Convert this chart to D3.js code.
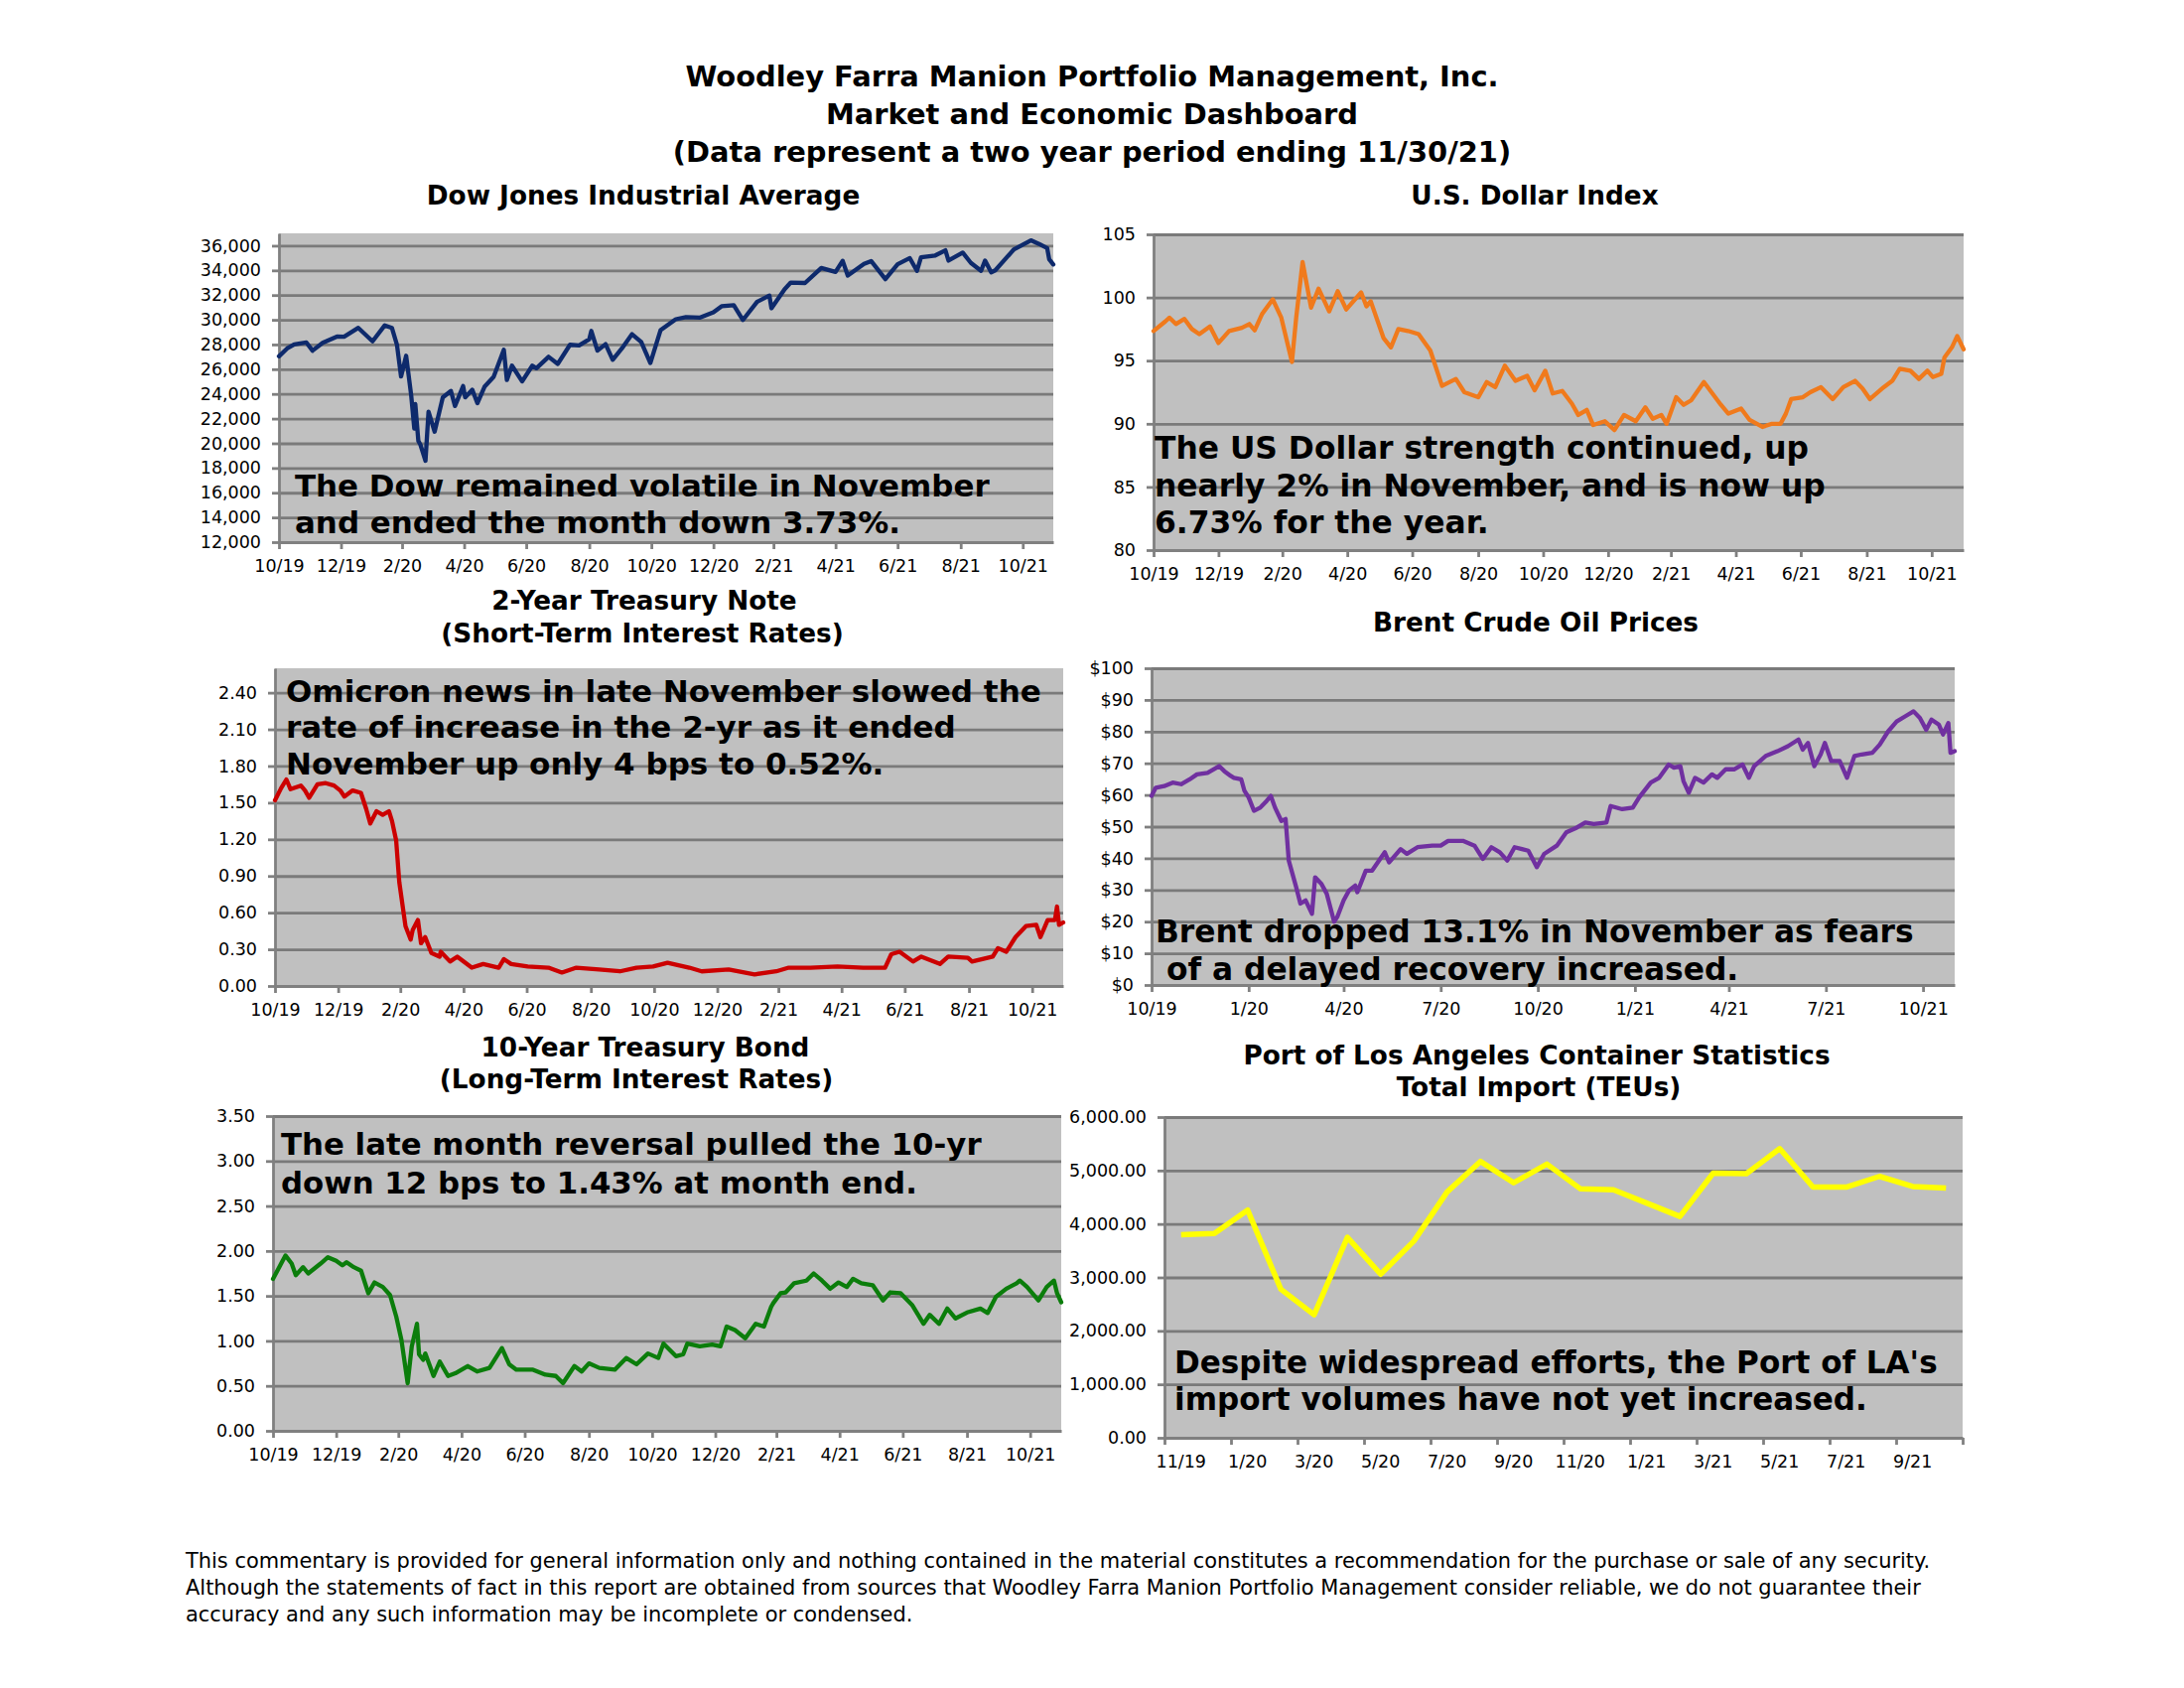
<!DOCTYPE html>
<html><head><meta charset="utf-8">
<script src="https://cdn.jsdelivr.net/npm/d3@7"></script>
<style>body{margin:0;background:#fff}svg{display:block}</style>
</head><body>
<svg id="c" width="2200" height="1700"></svg>
<script>
// ---------------- DATA ----------------
const dowDates = ["2019-10-31","2019-11-08","2019-11-15","2019-11-27","2019-12-03","2019-12-13","2019-12-27","2020-01-03","2020-01-17","2020-01-31","2020-02-12","2020-02-19","2020-02-24","2020-02-28","2020-03-04","2020-03-09","2020-03-12","2020-03-13","2020-03-16","2020-03-18","2020-03-23","2020-03-26","2020-04-01","2020-04-09","2020-04-17","2020-04-21","2020-04-29","2020-05-01","2020-05-08","2020-05-13","2020-05-20","2020-05-29","2020-06-08","2020-06-11","2020-06-16","2020-06-26","2020-07-06","2020-07-10","2020-07-22","2020-07-31","2020-08-12","2020-08-21","2020-08-31","2020-09-02","2020-09-08","2020-09-16","2020-09-23","2020-10-02","2020-10-12","2020-10-21","2020-10-30","2020-11-09","2020-11-24","2020-12-04","2020-12-18","2020-12-31","2021-01-08","2021-01-20","2021-01-29","2021-02-12","2021-02-24","2021-02-26","2021-03-11","2021-03-17","2021-03-31","2021-04-16","2021-04-30","2021-05-07","2021-05-12","2021-05-28","2021-06-04","2021-06-18","2021-06-30","2021-07-12","2021-07-19","2021-07-23","2021-08-06","2021-08-16","2021-08-19","2021-09-02","2021-09-10","2021-09-20","2021-09-24","2021-09-30","2021-10-04","2021-10-22","2021-11-08","2021-11-16","2021-11-24","2021-11-26","2021-11-30"];
const dowValues = [27046,27681,28005,28164,27502,28135,28645,28634,29348,28256,29551,29348,27961,25409,27091,23851,21200,23185,20189,19899,18592,22552,20943,23719,24242,23019,24634,23724,24331,23248,24576,25383,27572,25128,26290,25016,26288,26075,27005,26428,27977,27930,28430,29100,27501,28032,26763,27683,28838,28211,26502,29158,30046,30218,30179,30606,31098,31188,29983,31458,31962,30932,32485,33015,32982,34200,33875,34778,33587,34529,34756,33290,34503,34996,33962,35061,35208,35625,34792,35443,34608,33970,34798,33844,34002,35677,36432,36143,35804,34899,34484];

const usdDates = ["2019-10-31","2019-11-11","2019-11-15","2019-11-21","2019-11-29","2019-12-06","2019-12-13","2019-12-23","2019-12-31","2020-01-10","2020-01-22","2020-01-29","2020-02-03","2020-02-10","2020-02-20","2020-02-28","2020-03-09","2020-03-13","2020-03-19","2020-03-27","2020-04-03","2020-04-13","2020-04-21","2020-04-29","2020-05-13","2020-05-18","2020-05-22","2020-06-03","2020-06-10","2020-06-17","2020-06-26","2020-07-06","2020-07-17","2020-07-28","2020-08-10","2020-08-18","2020-08-31","2020-09-08","2020-09-16","2020-09-25","2020-10-05","2020-10-16","2020-10-23","2020-11-02","2020-11-09","2020-11-18","2020-11-27","2020-12-03","2020-12-11","2020-12-17","2020-12-28","2021-01-06","2021-01-15","2021-01-26","2021-02-04","2021-02-11","2021-02-19","2021-02-24","2021-03-05","2021-03-12","2021-03-19","2021-03-31","2021-04-08","2021-04-16","2021-04-23","2021-05-05","2021-05-13","2021-05-25","2021-06-03","2021-06-11","2021-06-16","2021-06-21","2021-07-02","2021-07-09","2021-07-19","2021-07-30","2021-08-09","2021-08-20","2021-08-27","2021-09-03","2021-09-16","2021-09-24","2021-10-01","2021-10-11","2021-10-19","2021-10-27","2021-11-01","2021-11-09","2021-11-12","2021-11-19","2021-11-24","2021-11-30"];
const usdValues = [97.35,98.1,98.4,97.9,98.3,97.5,97.1,97.7,96.4,97.35,97.6,97.9,97.4,98.7,99.85,98.4,94.9,98.4,102.8,99.2,100.7,98.9,100.5,99.05,100.4,99.3,99.7,96.8,96.05,97.5,97.35,97.1,95.8,93.0,93.55,92.5,92.1,93.3,92.9,94.6,93.4,93.8,92.65,94.2,92.4,92.6,91.6,90.7,91.1,89.9,90.2,89.5,90.7,90.2,91.3,90.4,90.7,90.0,92.1,91.5,91.85,93.3,92.4,91.5,90.8,91.2,90.3,89.75,90.0,90.0,90.8,91.95,92.1,92.5,92.9,91.95,92.9,93.4,92.8,91.95,92.9,93.4,94.35,94.2,93.55,94.2,93.7,93.95,95.25,96.05,96.95,95.9];

const t2Dates = ["2019-10-31","2019-11-06","2019-11-11","2019-11-15","2019-11-25","2019-11-29","2019-12-03","2019-12-11","2019-12-19","2019-12-27","2020-01-02","2020-01-06","2020-01-14","2020-01-22","2020-01-27","2020-01-31","2020-02-06","2020-02-12","2020-02-18","2020-02-21","2020-02-25","2020-02-28","2020-03-05","2020-03-10","2020-03-12","2020-03-17","2020-03-20","2020-03-24","2020-03-30","2020-04-07","2020-04-08","2020-04-17","2020-04-24","2020-05-08","2020-05-19","2020-06-03","2020-06-08","2020-06-15","2020-07-01","2020-07-21","2020-08-03","2020-08-17","2020-09-08","2020-09-28","2020-10-14","2020-10-30","2020-11-13","2020-12-04","2020-12-16","2021-01-11","2021-02-05","2021-02-26","2021-03-10","2021-03-31","2021-04-26","2021-05-21","2021-06-11","2021-06-17","2021-06-25","2021-07-08","2021-07-16","2021-08-03","2021-08-11","2021-08-30","2021-09-03","2021-09-23","2021-09-28","2021-10-06","2021-10-15","2021-10-25","2021-11-04","2021-11-08","2021-11-15","2021-11-22","2021-11-24","2021-11-26","2021-11-30"];
const t2Values = [1.52,1.62,1.69,1.61,1.64,1.60,1.54,1.65,1.66,1.64,1.60,1.55,1.60,1.58,1.45,1.33,1.43,1.40,1.43,1.35,1.19,0.85,0.49,0.38,0.46,0.54,0.35,0.40,0.27,0.24,0.28,0.20,0.24,0.15,0.18,0.15,0.22,0.18,0.16,0.15,0.11,0.15,0.135,0.12,0.15,0.16,0.19,0.15,0.12,0.135,0.095,0.12,0.15,0.15,0.16,0.15,0.15,0.26,0.28,0.20,0.24,0.18,0.24,0.23,0.20,0.24,0.31,0.28,0.40,0.49,0.50,0.40,0.54,0.54,0.65,0.50,0.52];

const brentDates = ["2019-10-31","2019-11-04","2019-11-12","2019-11-20","2019-11-28","2019-12-06","2019-12-13","2019-12-23","2020-01-03","2020-01-08","2020-01-14","2020-01-17","2020-01-24","2020-01-27","2020-01-31","2020-02-05","2020-02-11","2020-02-17","2020-02-21","2020-02-25","2020-03-02","2020-03-06","2020-03-09","2020-03-16","2020-03-20","2020-03-25","2020-03-31","2020-04-03","2020-04-09","2020-04-14","2020-04-21","2020-04-24","2020-04-30","2020-05-05","2020-05-11","2020-05-13","2020-05-21","2020-05-27","2020-06-08","2020-06-12","2020-06-23","2020-06-29","2020-07-09","2020-07-23","2020-07-31","2020-08-07","2020-08-21","2020-09-01","2020-09-09","2020-09-17","2020-09-25","2020-10-02","2020-10-09","2020-10-16","2020-10-22","2020-10-30","2020-11-06","2020-11-18","2020-11-27","2020-12-07","2020-12-15","2020-12-23","2021-01-04","2021-01-08","2021-01-19","2021-01-29","2021-02-04","2021-02-15","2021-02-23","2021-03-04","2021-03-09","2021-03-15","2021-03-18","2021-03-23","2021-03-29","2021-04-06","2021-04-14","2021-04-19","2021-04-27","2021-05-05","2021-05-13","2021-05-19","2021-05-24","2021-06-04","2021-06-15","2021-06-25","2021-07-05","2021-07-09","2021-07-14","2021-07-20","2021-07-26","2021-07-30","2021-08-05","2021-08-13","2021-08-20","2021-08-27","2021-09-03","2021-09-13","2021-09-20","2021-09-28","2021-10-06","2021-10-14","2021-10-22","2021-10-28","2021-11-03","2021-11-08","2021-11-15","2021-11-19","2021-11-24","2021-11-26","2021-11-30"];
const brentValues = [59.7,62.3,62.8,63.9,63.4,64.9,66.5,67.0,69.1,67.5,66.0,65.4,64.9,61.3,59.2,55.0,56.0,58.1,59.7,56.0,51.8,52.4,39.3,30.9,25.7,26.7,22.5,34.0,31.9,28.8,20.0,21.5,26.7,29.8,31.4,29.3,36.1,36.1,41.9,38.7,42.9,41.4,43.5,44.0,44.0,45.5,45.5,44.0,39.8,43.5,41.9,39.3,43.5,42.9,42.4,37.2,41.4,44.0,48.2,49.7,51.3,50.8,51.3,56.5,55.5,56.0,59.2,63.9,65.4,69.6,68.6,69.1,64.4,60.7,65.4,63.9,66.5,65.4,68.1,68.1,69.6,65.4,69.1,72.3,73.8,75.4,77.5,74.3,76.4,69.1,72.8,76.4,70.7,70.7,65.4,72.3,72.8,73.3,75.9,80.1,83.2,84.8,86.4,84.3,80.6,83.8,82.2,79.1,82.7,73.3,73.8];

const t10Dates = ["2019-10-31","2019-11-06","2019-11-12","2019-11-18","2019-11-22","2019-11-29","2019-12-04","2019-12-16","2019-12-23","2019-12-31","2020-01-06","2020-01-10","2020-01-17","2020-01-24","2020-01-31","2020-02-06","2020-02-14","2020-02-21","2020-02-27","2020-03-03","2020-03-09","2020-03-13","2020-03-18","2020-03-20","2020-03-24","2020-03-26","2020-04-03","2020-04-09","2020-04-17","2020-04-24","2020-05-06","2020-05-15","2020-05-27","2020-06-08","2020-06-15","2020-06-22","2020-07-08","2020-07-20","2020-07-30","2020-08-06","2020-08-17","2020-08-24","2020-08-31","2020-09-10","2020-09-25","2020-10-06","2020-10-16","2020-10-27","2020-11-06","2020-11-11","2020-11-23","2020-11-30","2020-12-04","2020-12-16","2020-12-28","2021-01-05","2021-01-11","2021-01-19","2021-01-29","2021-02-08","2021-02-16","2021-02-23","2021-02-25","2021-03-04","2021-03-09","2021-03-17","2021-03-29","2021-04-05","2021-04-13","2021-04-21","2021-04-29","2021-05-07","2021-05-13","2021-05-21","2021-06-01","2021-06-11","2021-06-18","2021-06-28","2021-07-09","2021-07-20","2021-07-26","2021-08-04","2021-08-12","2021-08-20","2021-09-01","2021-09-13","2021-09-20","2021-09-28","2021-10-08","2021-10-18","2021-10-21","2021-10-28","2021-11-08","2021-11-16","2021-11-23","2021-11-26","2021-11-30"];
const t10Values = [1.69,1.82,1.95,1.86,1.73,1.82,1.75,1.86,1.93,1.89,1.84,1.875,1.82,1.78,1.53,1.65,1.60,1.51,1.27,1.01,0.53,0.94,1.19,0.85,0.79,0.86,0.61,0.77,0.61,0.64,0.72,0.66,0.70,0.92,0.74,0.68,0.68,0.625,0.61,0.53,0.72,0.66,0.75,0.70,0.68,0.81,0.74,0.86,0.81,0.97,0.83,0.85,0.97,0.94,0.96,0.94,1.16,1.12,1.03,1.19,1.16,1.38,1.42,1.53,1.54,1.64,1.67,1.75,1.67,1.58,1.65,1.60,1.69,1.64,1.62,1.45,1.54,1.53,1.40,1.19,1.29,1.19,1.36,1.25,1.32,1.36,1.31,1.49,1.58,1.64,1.67,1.60,1.45,1.60,1.67,1.53,1.43];

const portMonths = ["11/19","12/19","1/20","2/20","3/20","4/20","5/20","6/20","7/20","8/20","9/20","10/20","11/20","12/20","1/21","2/21","3/21","4/21","5/21","6/21","7/21","8/21","9/21","10/21"];
const portValues = [3800,3820,4260,2780,2300,3750,3060,3680,4600,5170,4770,5120,4660,4640,4390,4140,4950,4940,5410,4690,4690,4890,4700,4670];

const bimonthlyTickLabels = ["10/19","12/19","2/20","4/20","6/20","8/20","10/20","12/20","2/21","4/21","6/21","8/21","10/21"];
const quarterlyTickLabels = ["10/19","1/20","4/20","7/20","10/20","1/21","4/21","7/21","10/21"];
const dowTicks = [12000,14000,16000,18000,20000,22000,24000,26000,28000,30000,32000,34000,36000];
const usdTicks = [80,85,90,95,100,105];
const t2Ticks = [0,0.3,0.6,0.9,1.2,1.5,1.8,2.1,2.4];
const brentTicks = [0,10,20,30,40,50,60,70,80,90,100];
const t10Ticks = [0,0.5,1,1.5,2,2.5,3,3.5];
const portTicks = [0,1000,2000,3000,4000,5000,6000];

// ---------------- DRAW ----------------
const svg = d3.select("#c");
const FONT = "'DejaVu Sans', Verdana, sans-serif";
const BG = "#c0c0c0", GRID = "#7a7a7a", AX = "#808080";
const parse = d3.timeParse("%Y-%m-%d");
const xStart = new Date(2019, 9, 31), xEnd = new Date(2021, 10, 30);
const monthEnd = k => d3.timeDay.offset(d3.timeMonth.offset(new Date(2019, 10, 1), k), -1);

function styleAxis(g) {
  g.attr("font-family", FONT).attr("font-size", 17.5);
  g.select(".domain").attr("stroke", AX).attr("stroke-width", 2.8);
  g.selectAll(".tick line").attr("stroke", AX).attr("stroke-width", 2.8);
  g.selectAll(".tick text").attr("fill", "#000");
}

function frame(p, y) {
  const g = svg.append("g");
  g.append("rect").attr("x", p.x0).attr("y", p.y0).attr("width", p.x1 - p.x0).attr("height", p.y1 - p.y0).attr("fill", BG);
  const grid = g.append("g").attr("transform", `translate(${p.x0},0)`)
    .call(d3.axisLeft(y).tickValues(p.yTicks.filter(v => v > p.yDomain[0])).tickSize(-(p.x1 - p.x0)).tickFormat(""));
  grid.select(".domain").remove();
  grid.selectAll(".tick line").attr("stroke", GRID).attr("stroke-width", 2.8);
  const ya = g.append("g").attr("transform", `translate(${p.x0},0)`)
    .call(d3.axisLeft(y).tickValues(p.yTicks).tickFormat(p.yFmt).tickSize(7).tickSizeOuter(0).tickPadding(11));
  styleAxis(ya);
  return g;
}

function timePanel(p) {
  const x = d3.scaleTime().domain([xStart, xEnd]).range([p.x0, p.x1]);
  const y = d3.scaleLinear().domain(p.yDomain).range([p.y1, p.y0]);
  const g = frame(p, y);
  const tickDates = p.xLabels.map((_, i) => monthEnd(i * p.step));
  const xa = g.append("g").attr("transform", `translate(0,${p.y1})`)
    .call(d3.axisBottom(x).tickValues(tickDates).tickFormat((d, i) => p.xLabels[i]).tickSize(7).tickSizeOuter(0).tickPadding(11));
  styleAxis(xa);
  const data = p.dates.map((d, i) => ({ d: parse(d), v: p.values[i] }));
  g.append("path").datum(data)
    .attr("d", d3.line().x(e => x(e.d)).y(e => y(e.v)))
    .attr("fill", "none").attr("stroke", p.color).attr("stroke-width", p.lw)
    .attr("stroke-linejoin", "round").attr("stroke-linecap", "round");
}

timePanel({ x0: 281, x1: 1061, y0: 235, y1: 546, yDomain: [12000, 37000], yTicks: dowTicks, yFmt: d3.format(","),
  xLabels: bimonthlyTickLabels, step: 2, dates: dowDates, values: dowValues, color: "#0e2a6c", lw: 4.3 });
timePanel({ x0: 1162, x1: 1978, y0: 236, y1: 554, yDomain: [80, 105], yTicks: usdTicks, yFmt: d3.format("d"),
  xLabels: bimonthlyTickLabels, step: 2, dates: usdDates, values: usdValues, color: "#f07a1c", lw: 4.3 });
timePanel({ x0: 277, x1: 1071, y0: 673, y1: 993, yDomain: [0, 2.6], yTicks: t2Ticks, yFmt: d3.format(".2f"),
  xLabels: bimonthlyTickLabels, step: 2, dates: t2Dates, values: t2Values, color: "#cc0000", lw: 4.3 });
timePanel({ x0: 1160, x1: 1969, y0: 673, y1: 992, yDomain: [0, 100], yTicks: brentTicks, yFmt: v => "$" + v,
  xLabels: quarterlyTickLabels, step: 3, dates: brentDates, values: brentValues, color: "#7030a0", lw: 4.3 });
timePanel({ x0: 275, x1: 1069, y0: 1124, y1: 1441, yDomain: [0, 3.5], yTicks: t10Ticks, yFmt: d3.format(".2f"),
  xLabels: bimonthlyTickLabels, step: 2, dates: t10Dates, values: t10Values, color: "#0b7d0b", lw: 4.3 });

// Port of LA (category axis)
(function () {
  const p = { x0: 1173, x1: 1977, y0: 1125, y1: 1448, yDomain: [0, 6000], yTicks: portTicks, yFmt: d3.format(",.2f") };
  const y = d3.scaleLinear().domain(p.yDomain).range([p.y1, p.y0]);
  const g = frame(p, y);
  const xb = d3.scaleBand().domain(portMonths).range([p.x0, p.x1]).padding(0);
  const xi = d3.scaleLinear().domain([0, portMonths.length]).range([p.x0, p.x1]);
  const tk = g.append("g").attr("transform", `translate(0,${p.y1})`)
    .call(d3.axisBottom(xi).tickValues(d3.range(0, portMonths.length + 1, 2)).tickFormat("").tickSize(7).tickSizeOuter(0));
  styleAxis(tk);
  const lb = g.append("g").attr("transform", `translate(0,${p.y1})`)
    .call(d3.axisBottom(xb).tickValues(portMonths.filter((_, i) => i % 2 === 0)).tickSize(0).tickPadding(18));
  styleAxis(lb);
  lb.select(".domain").remove();
  g.append("path").datum(portValues)
    .attr("d", d3.line().x((v, i) => xb(portMonths[i]) + xb.bandwidth() / 2).y(v => y(v)))
    .attr("fill", "none").attr("stroke", "#ffff00").attr("stroke-width", 5.5)
    .attr("stroke-linejoin", "round");
})();

// ---------------- TEXT ----------------
function textGroup(items, size, weight, anchor) {
  const nodes = items.map(it => svg.append("text")
    .attr("x", it.x).attr("y", it.y).attr("text-anchor", anchor)
    .attr("font-family", FONT).attr("font-weight", weight).attr("font-size", size)
    .attr("fill", "#000").style("white-space", "pre").text(it.t));
  let tw = 0, lw = 0;
  items.forEach((it, i) => { if (it.w) { tw += it.w; lw += nodes[i].node().getComputedTextLength(); } });
  if (lw > 0) nodes.forEach(n => n.attr("font-size", size * tw / lw));
}

textGroup([
  { t: "Woodley Farra Manion Portfolio Management, Inc.", x: 1100, y: 87, w: 808 },
  { t: "Market and Economic Dashboard", x: 1100, y: 125, w: 542 },
  { t: "(Data represent a two year period ending 11/30/21)", x: 1100, y: 163, w: 850 }
], 28, "bold", "middle");

textGroup([
  { t: "Dow Jones Industrial Average", x: 648, y: 206, w: 440 },
  { t: "U.S. Dollar Index", x: 1546, y: 206, w: 250 },
  { t: "2-Year Treasury Note", x: 649, y: 614, w: 313 },
  { t: "(Short-Term Interest Rates)", x: 647, y: 647, w: 414 },
  { t: "Brent Crude Oil Prices", x: 1547, y: 636, w: 321 },
  { t: "10-Year Treasury Bond", x: 650, y: 1064, w: 318 },
  { t: "(Long-Term Interest Rates)", x: 641, y: 1096, w: 407 },
  { t: "Port of Los Angeles Container Statistics", x: 1548, y: 1072, w: 577 },
  { t: "Total Import (TEUs)", x: 1550, y: 1104, w: 293 }
], 24, "bold", "middle");

textGroup([
  { t: "The Dow remained volatile in November", x: 297, y: 500, w: 700 },
  { t: "and ended the month down 3.73%.", x: 297, y: 537 }
], 28, "bold", "start");
textGroup([
  { t: "The US Dollar strength continued, up", x: 1163, y: 462, w: 650 },
  { t: "nearly 2% in November, and is now up", x: 1163, y: 500, w: 685 },
  { t: "6.73% for the year.", x: 1163, y: 537 }
], 28, "bold", "start");
textGroup([
  { t: "Omicron news in late November slowed the", x: 288, y: 707, w: 761 },
  { t: "rate of increase in the 2-yr as it ended", x: 288, y: 743 },
  { t: "November up only 4 bps to 0.52%.", x: 288, y: 780 }
], 28, "bold", "start");
textGroup([
  { t: "Brent dropped 13.1% in November as fears", x: 1164, y: 949, w: 764 },
  { t: " of a delayed recovery increased.", x: 1164, y: 987 }
], 28, "bold", "start");
textGroup([
  { t: "The late month reversal pulled the 10-yr", x: 283, y: 1163, w: 706 },
  { t: "down 12 bps to 1.43% at month end.", x: 283, y: 1202 }
], 28, "bold", "start");
textGroup([
  { t: "Despite widespread efforts, the Port of LA's", x: 1183, y: 1383, w: 769 },
  { t: "import volumes have not yet increased.", x: 1183, y: 1420 }
], 28, "bold", "start");

textGroup([
  { t: "This commentary is provided for general information only and nothing contained in the material constitutes a recommendation for the purchase or sale of any security.", x: 187, y: 1579, w: 1775 },
  { t: "Although the statements of fact in this report are obtained from sources that Woodley Farra Manion Portfolio Management consider reliable, we do not guarantee their", x: 187, y: 1606, w: 1731 },
  { t: "accuracy and any such information may be incomplete or condensed.", x: 187, y: 1633, w: 733 }
], 18, "normal", "start");
</script>
</body></html>
